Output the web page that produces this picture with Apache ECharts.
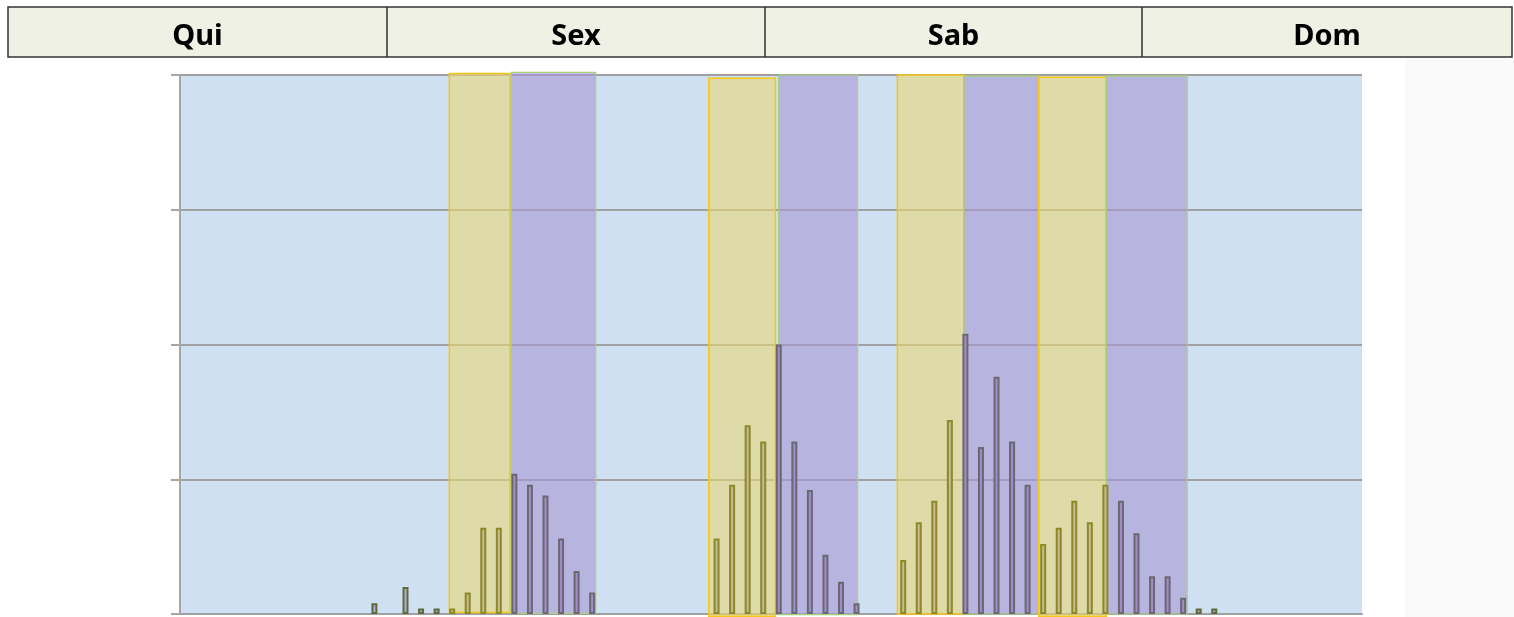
<!DOCTYPE html>
<html>
<head>
<meta charset="utf-8">
<script src="https://cdn.jsdelivr.net/npm/echarts@6/dist/echarts.min.js"></script>
<style>
  html, body { margin: 0; padding: 0; background: #fff; }
  #chart { width: 1514px; height: 617px; }
</style>
</head>
<body>
<div id="chart"></div>
<script>
// dias no cabeçalho
const dayLabels = ['Qui', 'Sex', 'Sab', 'Dom']

// 76 intervalos no eixo x
const slotValues = [
  0, 0, 0, 0, 0, 0, 0, 0, 0, 0,
  0, 0, 2, 0, 5, 1, 1, 1, 4, 16,
  16, 26, 24, 22, 14, 8, 4, 0, 0, 0,
  0, 0, 0, 0, 14, 24, 35, 32, 50, 32,
  23, 11, 6, 2, 0, 0, 10, 17, 21, 36,
  52, 31, 44, 32, 24, 13, 16, 21, 17, 24,
  21, 15, 7, 7, 3, 1, 1, 0, 0, 0,
  0, 0, 0, 0, 0, 0
]
const slots = slotValues.map((v, i) => String(i))

// faixas coloridas (a = amarela, b = roxa), em unidades do eixo x
const zoneType = ['a', 'b', 'a', 'b', 'a', 'b', 'a', 'b']
const zoneStart = [17.32, 21.29, 34.0, 38.48, 46.13, 50.4, 55.22, 59.55]
const zoneEnd = [21.22, 26.73, 38.28, 43.57, 50.4, 55.18, 59.55, 64.76]
const zoneBottom = [0.3, 0.1, -0.4, -0.1, 0, 0, -0.4, 0]
const zoneTop = [100.3, 100.5, 99.4, 100, 100, 99.8, 99.6, 99.8]

const zoneStyle = {
  a: { fill: 'rgba(232,215,118,0.6)', stroke: '#f5c518' },
  b: { fill: 'rgba(168,150,212,0.6)', stroke: '#a6d37a' }
}
const barStyle = {
  none: { color: '#b3aad8', borderColor: '#5d6b3b' },
  a: { color: '#c9b99a', borderColor: '#8b8a26' },
  b: { color: '#a08dcc', borderColor: '#6b6870' }
}

const zoneOf = i => {
  const c = i + 0.5
  for (let k = 0; k < zoneType.length; k++) {
    if (c >= zoneStart[k] && c <= zoneEnd[k]) return zoneType[k]
  }
  return 'none'
}

const chart = echarts.init(document.getElementById('chart'))

const cols = [8, 387, 765, 1142, 1512]
const header = [
  { type: 'rect', shape: { x: 1405, y: 58, width: 109, height: 559 }, style: { fill: '#fafafa' }, z: -10 },
  { type: 'rect', shape: { x: 8, y: 7, width: 1504, height: 50 }, style: { fill: '#eef1e4', stroke: '#333', lineWidth: 1.5 } }
]
for (let i = 1; i < 4; i++) {
  header.push({ type: 'line', shape: { x1: cols[i], y1: 7, x2: cols[i], y2: 57 }, style: { stroke: '#333', lineWidth: 1.5 } })
}
dayLabels.forEach((d, i) => {
  header.push({
    type: 'text',
    x: (cols[i] + cols[i + 1]) / 2,
    y: 37,
    style: {
      text: d,
      fill: '#000',
      font: 'bold 29px "Noto Sans", "Open Sans", sans-serif',
      align: 'center',
      verticalAlign: 'middle'
    }
  })
})

chart.setOption({
  animation: false,
  graphic: header,
  grid: {
    left: 180,
    right: 152,
    top: 75,
    bottom: 3,
    show: true,
    backgroundColor: '#cfe0f2',
    borderWidth: 0
  },
  xAxis: [
    {
      type: 'category',
      data: slots,
      axisLine: { show: true, lineStyle: { color: '#a0a0a0', width: 2 } },
      axisTick: { show: false },
      axisLabel: { show: false },
      splitLine: { show: false }
    },
    {
      type: 'value',
      min: 0,
      max: slots.length,
      show: false,
      splitLine: { show: false }
    }
  ],
  yAxis: {
    type: 'value',
    min: 0,
    max: 100,
    interval: 25,
    axisLine: { show: true, lineStyle: { color: '#a6a6a6', width: 2 } },
    axisTick: { show: true, length: 9, lineStyle: { color: '#a6a6a6', width: 2 } },
    axisLabel: { show: false },
    splitLine: { show: true, lineStyle: { color: '#a0a0a0', width: 2 } }
  },
  series: [
    {
      type: 'custom',
      xAxisIndex: 1,
      yAxisIndex: 0,
      encode: { x: [0, 1], y: [2, 3] },
      data: zoneType.map((t, k) => [zoneStart[k], zoneEnd[k], zoneBottom[k], zoneTop[k], k]),
      renderItem: (params, api) => {
        const k = api.value(4)
        const p0 = api.coord([api.value(0), api.value(3)])
        const p1 = api.coord([api.value(1), api.value(2)])
        const s = zoneStyle[zoneType[k]]
        return {
          type: 'rect',
          shape: { x: p0[0], y: p0[1], width: p1[0] - p0[0], height: p1[1] - p0[1] },
          style: { fill: s.fill, stroke: s.stroke, lineWidth: zoneType[k] === 'a' ? 1.5 : 1.2 }
        }
      },
      silent: true,
      z: 1
    },
    {
      type: 'bar',
      xAxisIndex: 0,
      barWidth: 6,
      z: 3,
      data: slotValues.map((v, i) => ({
        value: v === 0 ? '-' : v,
        itemStyle: Object.assign({ borderWidth: 2 }, barStyle[zoneOf(i)])
      }))
    }
  ]
})
</script>
</body>
</html>
